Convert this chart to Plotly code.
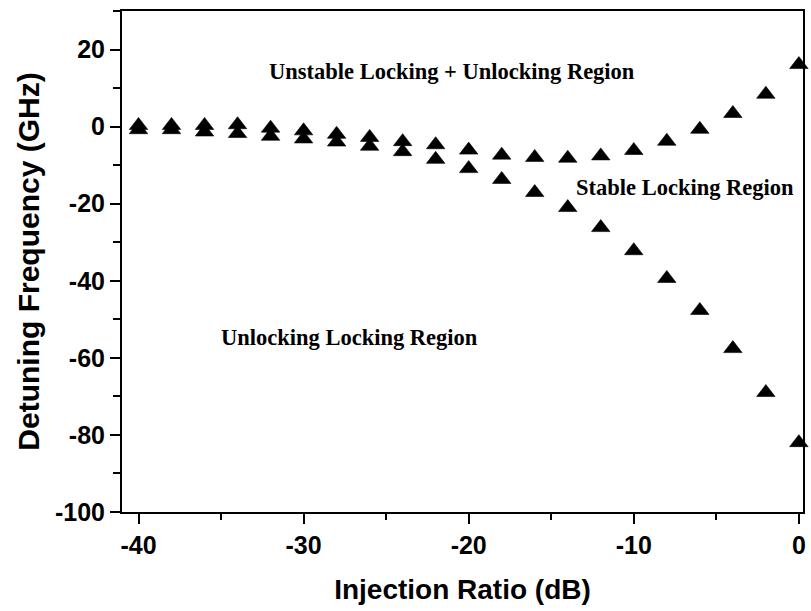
import plotly.graph_objects as go

injection_db = [-40, -38, -36, -34, -32, -30, -28, -26, -24, -22, -20,
                -18, -16, -14, -12, -10, -8, -6, -4, -2, 0]
upper_ghz = [0.3, 0.3, 0.3, 0.5, -0.4, -1.1, -2.0, -2.8, -3.9, -4.7, -6.1,
             -7.4, -8.0, -8.2, -7.6, -6.2, -3.8, -0.7, 3.4, 8.4, 16.1]
lower_ghz = [-0.8, -0.8, -1.4, -1.8, -2.5, -3.2, -4.0, -5.1, -6.5, -8.5, -10.9,
             -13.7, -17.1, -21.0, -26.2, -32.2, -39.4, -47.7, -57.6, -69.0, -82.0]

x_ticks = [-40, -30, -20, -10, 0]
y_ticks = [-100, -80, -60, -40, -20, 0, 20]

region_labels = ["Unstable Locking + Unlocking Region", "Stable Locking Region",
                 "Unlocking Locking Region"]
region_x = [-21.0, -6.9, -27.2]
region_y = [14.3, -15.8, -54.8]

fig = go.Figure()
for ys in (upper_ghz, lower_ghz):
    fig.add_trace(go.Scatter(
        x=injection_db, y=ys, mode="markers",
        marker=dict(symbol="triangle-up", size=16, color="black",
                    line=dict(width=0.6, color="black")),
        showlegend=False, cliponaxis=False))

for t, xx, yy in zip(region_labels, region_x, region_y):
    fig.add_annotation(x=xx, y=yy, text="<b>" + t + "</b>", showarrow=False,
                       font=dict(family="Liberation Serif", size=22.5, color="black"))

axis_font = dict(family="Liberation Sans", size=25, color="black")

fig.update_xaxes(
    range=[-41.0, 0.25], tickvals=x_ticks,
    ticktext=["<b>%d</b>" % v for v in x_ticks],
    ticks="outside", ticklen=10, tickwidth=2, tickcolor="black",
    minor=dict(dtick=5, tick0=0, ticks="outside", ticklen=6, tickwidth=2, tickcolor="black"),
    showline=True, linewidth=2, linecolor="black", mirror=True,
    showgrid=False, zeroline=False, tickfont=axis_font,
    title=dict(text="<b>Injection Ratio (dB)</b>",
               font=dict(family="Liberation Sans", size=28, color="black"), standoff=21))
fig.update_yaxes(
    range=[-100, 30], tickvals=y_ticks,
    ticktext=["<b>%d</b>" % v for v in y_ticks],
    ticks="outside", ticklen=10, tickwidth=2, tickcolor="black",
    minor=dict(dtick=10, tick0=0, ticks="outside", ticklen=7, tickwidth=2, tickcolor="black"),
    showline=True, linewidth=2, linecolor="black", mirror=True,
    showgrid=False, zeroline=False, tickfont=axis_font,
    title=dict(text="<b>Detuning Frequency (GHz)</b>",
               font=dict(family="Liberation Sans", size=30, color="black"), standoff=6))

fig.update_layout(
    width=811, height=611,
    margin=dict(l=122, r=5, t=11, b=99),
    plot_bgcolor="white", paper_bgcolor="white",
    font=dict(family="Liberation Sans", color="black"))

fig.write_html("out.html")
